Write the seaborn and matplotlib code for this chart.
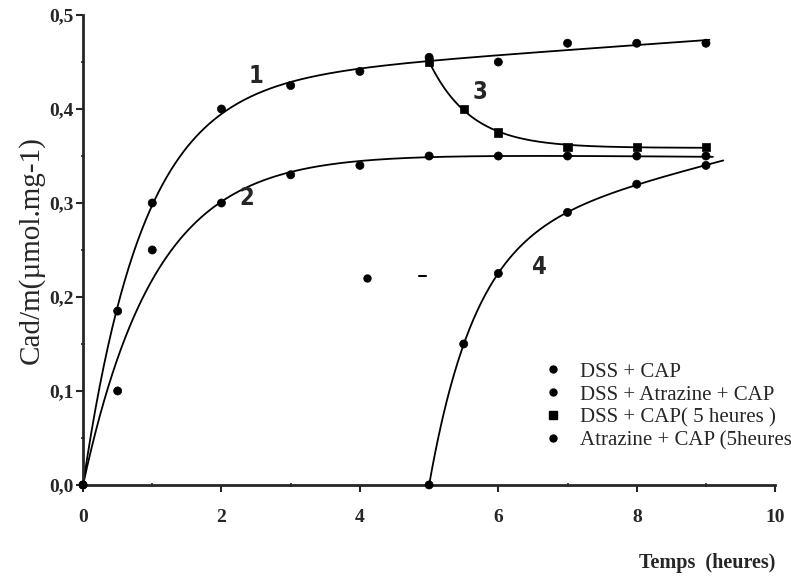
import numpy as np
import pandas as pd
import matplotlib
matplotlib.use("Agg")
import matplotlib.pyplot as plt
from matplotlib.lines import Line2D
from matplotlib.ticker import MultipleLocator, FuncFormatter
import seaborn as sns

# valeurs
t1 = [0, 0.5, 1, 2, 3, 4, 5, 6, 7, 8, 9]
y1 = [0, 0.185, 0.30, 0.40, 0.425, 0.44, 0.455, 0.45, 0.47, 0.47, 0.47]
t2 = [0, 0.5, 1, 2, 3, 4, 5, 6, 7, 8, 9]
y2 = [0, 0.10, 0.25, 0.30, 0.33, 0.34, 0.35, 0.35, 0.35, 0.35, 0.35]
t3 = [5, 5.5, 6, 7, 8, 9]
y3 = [0.45, 0.40, 0.375, 0.36, 0.36, 0.36]
t4 = [5, 5.5, 6, 7, 8, 9]
y4 = [0, 0.15, 0.225, 0.29, 0.32, 0.34]
labels = ["DSS + CAP", "DSS + Atrazine + CAP", "DSS + CAP( 5 heures )",
          "Atrazine + CAP (5heures)"]
curve_names = ["1", "2", "3", "4"]
curve_end = [9.05, 9.1, 9.05, 9.25]
# taches de la copie
tx = [4.1]
ty = [0.22]

df = pd.concat([
    pd.DataFrame({"t": t1, "y": y1, "serie": labels[0]}),
    pd.DataFrame({"t": t2, "y": y2, "serie": labels[1]}),
    pd.DataFrame({"t": t3, "y": y3, "serie": labels[2]}),
    pd.DataFrame({"t": t4, "y": y4, "serie": labels[3]}),
])


def fit_curve(t, y, t0, decay=False, slope=False):
    # ajustement exponentiel simple (recherche de k, moindres carres pour le reste)
    t = np.asarray(t, float) - t0
    y = np.asarray(y, float)
    best = None
    for k in np.linspace(0.2, 5, 481):
        e = np.exp(-k * t)
        if decay:
            A = np.column_stack([np.ones_like(t), e])
        elif slope:
            A = np.column_stack([1 - e, t])
        else:
            A = np.column_stack([1 - e])
        coef, *_ = np.linalg.lstsq(A, y, rcond=None)
        err = np.sum((A @ coef - y) ** 2)
        if best is None or err < best[0]:
            best = (err, k, coef)
    _, k, coef = best

    def f(x):
        x = np.asarray(x, float) - t0
        e = np.exp(-k * x)
        if decay:
            return coef[0] + coef[1] * e
        if slope:
            return coef[0] * (1 - e) + coef[1] * x
        return coef[0] * (1 - e)
    return f


fits = [fit_curve(t1, y1, 0, slope=True), fit_curve(t2, y2, 0, slope=True),
        fit_curve(t3, y3, 5, decay=True), fit_curve(t4, y4, 5, slope=True)]
starts = [0, 0, 5, 5]

sns.set_style("ticks")
plt.rcParams["font.family"] = ["Liberation Serif", "DejaVu Serif"]

fig = plt.figure(figsize=(7.91, 5.78), dpi=100)
ax = fig.add_axes([0.105, 0.161, 0.875, 0.813])

for f, s, e in zip(fits, starts, curve_end):
    xs = np.linspace(s, e, 300)
    sns.lineplot(x=xs, y=f(xs), ax=ax, color="black", linewidth=1.3,
                 estimator=None, sort=False)

markers = {labels[0]: "o", labels[1]: "o", labels[2]: "s", labels[3]: "o"}
sns.scatterplot(data=df, x="t", y="y", style="serie", markers=markers,
                color="black", s=34, edgecolor="black", linewidth=0.5,
                ax=ax, legend=False, clip_on=False, zorder=3)
ax.scatter(tx, ty, marker="o", s=25, color="black")
ax.plot([4.85, 4.95], [0.222, 0.222], color="black", linewidth=1.5)

num_pos = [(2.5, 0.435), (2.36, 0.305), (5.74, 0.418), (6.6, 0.232)]
for name, (px, py) in zip(curve_names, num_pos):
    ax.text(px, py, name, fontsize=17, fontweight="bold", family="DejaVu Sans",
            fontstretch="condensed", ha="center", va="center")

ax.set_xlim(0, 10)
ax.set_ylim(0, 0.5)
ax.xaxis.set_major_locator(MultipleLocator(2))
ax.xaxis.set_minor_locator(MultipleLocator(1))
ax.yaxis.set_major_locator(MultipleLocator(0.1))
ax.yaxis.set_minor_locator(MultipleLocator(0.05))
ax.yaxis.set_major_formatter(FuncFormatter(lambda v, p: f"{v:.1f}".replace(".", ",")))
ax.tick_params(axis="both", which="major", labelsize=14, width=1.5, length=5,
               direction="out")
ax.tick_params(axis="x", which="major", pad=12)
ax.tick_params(axis="y", which="major", pad=2)
ax.tick_params(axis="both", which="minor", width=1.2, length=3, direction="inout")
for lab in ax.get_xticklabels() + ax.get_yticklabels():
    lab.set_fontweight("bold")

for side in ["top", "right"]:
    ax.spines[side].set_visible(False)
for side in ["left", "bottom"]:
    ax.spines[side].set_linewidth(2)

ax.set_ylabel("Cad/m(µmol.mg-1)", fontsize=21, labelpad=3)
ax.set_xlabel("Temps  (heures)", fontsize=14.5, fontweight="bold", loc="right",
              labelpad=20)

handles = [Line2D([], [], marker=markers[l], color="black", linestyle="none",
                  markersize=5 if markers[l] == "o" else 5.5) for l in labels]
fig.legend(handles, labels, loc="upper left", bbox_to_anchor=(0.678, 0.388),
           frameon=False, fontsize=15, handlelength=0.8, handletextpad=0.9,
           labelspacing=0.16, borderaxespad=0)

fig.savefig("out.png", dpi=100)
